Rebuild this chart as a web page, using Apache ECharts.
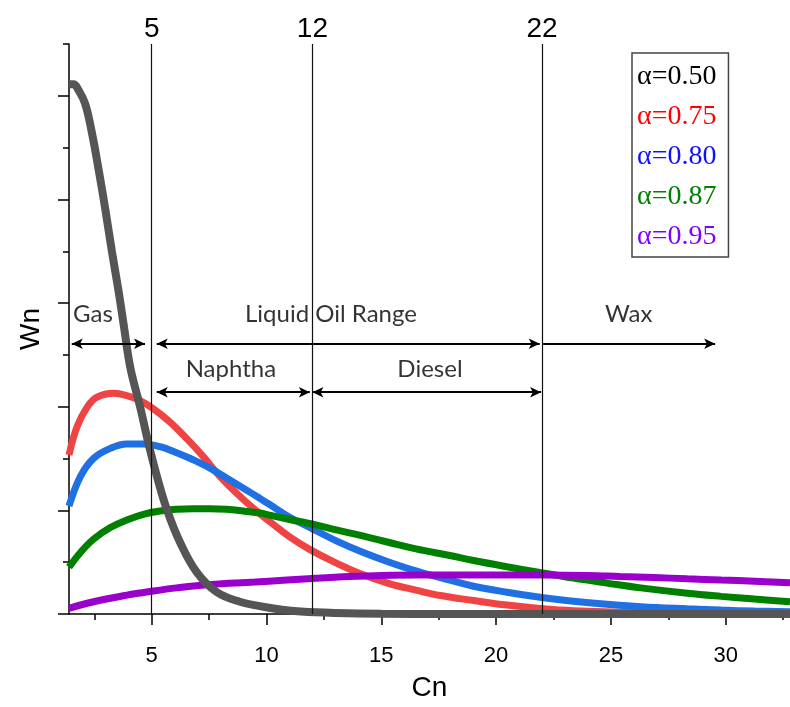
<!DOCTYPE html>
<html>
<head>
<meta charset="utf-8">
<script src="https://cdn.jsdelivr.net/npm/echarts@6/dist/echarts.min.js"></script>
<style>
  html, body { margin: 0; padding: 0; background: #ffffff; }
  #chart { width: 790px; height: 707px; }
</style>
</head>
<body>
<div id="chart"></div>
<script>
// Product distribution Wn versus carbon number Cn for several chain-growth probabilities α

const seriesNames = ['α=0.50', 'α=0.75', 'α=0.80', 'α=0.87', 'α=0.95'];

// [Cn, Wn] pairs
const wnAlpha050 = [
  [1.4, 0.2556], [1.6, 0.2556], [1.8, 0.2530], [2.1, 0.2463], [2.4, 0.2320], [2.69, 0.2144],
  [2.98, 0.1953], [3.27, 0.1748], [3.56, 0.1557], [3.78, 0.1396], [4.07, 0.1189],
  [4.5, 0.0998], [4.86, 0.0823], [5.23, 0.0664], [5.66, 0.0505], [6.24, 0.0345],
  [6.96, 0.0202], [7.83, 0.0106], [8.84, 0.0059], [9.71, 0.0038], [10.6, 0.0022],
  [11.5, 0.0012], [13, 0.0005], [15, 0.0001], [18, 0], [32.8, 0]
];
const wnAlpha075 = [
  [1.4, 0.0767], [1.75, 0.0903], [2.19, 0.0998], [2.62, 0.1046], [3.34, 0.1065],
  [3.92, 0.1054], [4.5, 0.1030], [5.08, 0.0990], [5.8, 0.0926], [6.53, 0.0846],
  [7.25, 0.0759], [7.97, 0.0664], [8.84, 0.0568], [9.57, 0.0497], [10.14, 0.0446],
  [11.01, 0.0372], [11.88, 0.0312], [12.89, 0.0254], [14.04, 0.0197], [15.35, 0.0147],
  [16.51, 0.0115], [17.57, 0.0089], [19.02, 0.0065], [20.47, 0.0043], [21.91, 0.0027],
  [23.37, 0.0016], [26.27, 0.0006], [29.0, 0.0002], [32.8, 0.0001]
];
const wnAlpha080 = [
  [1.4, 0.0521], [1.9, 0.0664], [2.47, 0.0751], [3.2, 0.0799], [3.92, 0.0820],
  [4.64, 0.0820], [5.37, 0.0807], [6.09, 0.0778], [6.81, 0.0744], [7.54, 0.0704],
  [8.26, 0.0656], [8.98, 0.0608], [9.71, 0.0558], [10.14, 0.0528], [11.01, 0.0467],
  [12.02, 0.0410], [13.04, 0.0353], [14.19, 0.0298], [15.35, 0.0250], [16.51, 0.0208],
  [17.99, 0.0163], [19.02, 0.0134], [20.47, 0.0105], [21.91, 0.0081], [23.37, 0.0062],
  [24.83, 0.0047], [26.3, 0.0035], [28.33, 0.0025], [29.8, 0.0019], [31.26, 0.0014],
  [32.8, 0.0011]
];
const wnAlpha087 = [
  [1.4, 0.0226], [1.9, 0.0297], [2.47, 0.0361], [3.2, 0.0417], [3.92, 0.0454],
  [4.64, 0.0481], [5.37, 0.0497], [6.09, 0.0505], [6.81, 0.0508], [7.54, 0.0508],
  [8.26, 0.0505], [8.98, 0.0497], [9.71, 0.0487], [10.14, 0.0477], [11.01, 0.0456],
  [12.02, 0.0433], [13.04, 0.0406], [14.19, 0.0377], [15.35, 0.0345], [16.51, 0.0314],
  [17.99, 0.0282], [19.02, 0.0258], [20.47, 0.0228], [21.91, 0.0200], [23.37, 0.0173],
  [24.83, 0.0149], [26.3, 0.0126], [28.33, 0.0100], [29.8, 0.0085], [31.26, 0.0072],
  [32.8, 0.0059]
];
const wnAlpha095 = [
  [1.4, 0.0027], [2.47, 0.0059], [3.92, 0.0091], [5.01, 0.0110], [6.09, 0.0126],
  [7.54, 0.0142], [9.5, 0.0154], [10.72, 0.0163], [12.17, 0.0173], [13.62, 0.0181],
  [15.06, 0.0186], [16.51, 0.0188], [18, 0.0188], [20, 0.0188], [22, 0.0188],
  [24, 0.0186], [25.4, 0.0181], [26.87, 0.0176], [28.33, 0.0170], [29.8, 0.0164],
  [31.26, 0.0158], [32.8, 0.0151]
];

const xMajorTicks = [5, 10, 15, 20, 25, 30];
const xMinorTicks = [2.5, 7.5, 12.5, 17.5, 22.5, 27.5, 32.5];
const yMajorTicks = [0, 0.05, 0.1, 0.15, 0.2, 0.25];
const yMinorTicks = [0.025, 0.075, 0.125, 0.175, 0.225, 0.275];
const cutCarbonNumbers = [5, 12, 22];

// Product ranges: [from Cn, to Cn, Wn level, double-headed]
const rangeArrows = [
  [1.52, 4.71, 0.1304, true],
  [5.22, 21.9, 0.1304, true],
  [22.05, 29.54, 0.1304, false],
  [5.22, 11.89, 0.1070, true],
  [12.0, 21.96, 0.1070, true]
];
// [Cn, Wn, text]
const rangeLabels = [
  [2.44, 0.1444, 'Gas'],
  [12.81, 0.1444, 'Liquid Oil Range'],
  [25.78, 0.1444, 'Wax'],
  [8.45, 0.1181, 'Naphtha'],
  [17.12, 0.1181, 'Diesel']
];

const lineColors = {
  'α=0.50': '#555555',
  'α=0.75': '#f04444',
  'α=0.80': '#1f70e2',
  'α=0.87': '#008000',
  'α=0.95': '#9900cc'
};
const legendColors = ['#000000', '#ff0000', '#1010ff', '#008000', '#8000ff'];
const curveData = {
  'α=0.50': wnAlpha050,
  'α=0.75': wnAlpha075,
  'α=0.80': wnAlpha080,
  'α=0.87': wnAlpha087,
  'α=0.95': wnAlpha095
};

const sansFont = '"Liberation Sans", Arial, sans-serif';
const drawOrder = ['α=0.75', 'α=0.80', 'α=0.87', 'α=0.95', 'α=0.50'];

const curveSeries = drawOrder.map(name => ({
  name: name,
  type: 'line',
  xAxisIndex: 0,
  yAxisIndex: 0,
  data: curveData[name],
  smooth: 0.4,
  showSymbol: false,
  symbol: 'none',
  silent: true,
  lineStyle: { color: lineColors[name], width: name === 'α=0.50' ? 8 : 7, cap: 'butt' },
  itemStyle: { color: lineColors[name] },
  clip: true
}));

const arrowData = rangeArrows.map(r => [
  { coord: [r[0], r[2]], symbol: r[3] ? 'arrow' : 'none' },
  { coord: [r[1], r[2]], symbol: 'arrow' }
]);

const annotationSeries = {
  name: 'ranges',
  type: 'scatter',
  xAxisIndex: 0,
  yAxisIndex: 0,
  silent: true,
  symbolSize: 0,
  data: rangeLabels,
  label: {
    show: true,
    position: 'inside',
    formatter: p => p.value[2],
    fontFamily: 'Lato, "Open Sans", sans-serif',
    fontSize: 24,
    color: '#000000'
  },
  markLine: {
    silent: true,
    animation: false,
    symbolSize: [8, 11],
    lineStyle: { color: '#000000', width: 2, type: 'solid' },
    label: { show: false },
    emphasis: { disabled: true },
    data: arrowData
  },
  z: 3
};

const cutSeries = {
  name: 'cuts',
  type: 'line',
  xAxisIndex: 0,
  yAxisIndex: 0,
  data: [],
  silent: true,
  markLine: {
    silent: true,
    animation: false,
    symbol: 'none',
    lineStyle: { color: '#111111', width: 1.2, type: 'solid' },
    label: { show: false },
    emphasis: { disabled: true },
    data: cutCarbonNumbers.map(v => ({ xAxis: v }))
  },
  z: 1
};

const chart = echarts.init(document.getElementById('chart'), null, { renderer: 'canvas' });

chart.setOption({
  animation: false,
  backgroundColor: '#ffffff',
  grid: { left: 69, right: 0, top: 44, bottom: 88, containLabel: false },
  legend: {
    orient: 'vertical',
    left: 632,
    top: 53,
    icon: 'none',
    itemWidth: 0,
    itemHeight: 28,
    itemGap: 12,
    padding: [10, 12, 6, 0],
    borderColor: '#444444',
    borderWidth: 1.5,
    selectedMode: false,
    textStyle: { fontFamily: '"Liberation Serif", "Times New Roman", serif', fontSize: 28 },
    data: seriesNames.map((n, i) => ({ name: n, textStyle: { color: legendColors[i] } }))
  },
  xAxis: [
    {
      type: 'value',
      min: 1.4,
      max: 32.8,
      position: 'bottom',
      name: 'Cn',
      nameLocation: 'middle',
      nameGap: 60,
      nameTextStyle: { fontFamily: sansFont, fontSize: 28, color: '#000' },
      axisLine: { show: true, onZero: false, lineStyle: { color: '#000', width: 1.5 } },
      axisTick: { show: true, inside: false, length: 11, customValues: xMajorTicks, lineStyle: { color: '#000', width: 1.5 } },
      axisLabel: { show: true, customValues: xMajorTicks, margin: 31, fontFamily: sansFont, fontSize: 22, color: '#000' },
      splitLine: { show: false }
    },
    {
      type: 'value',
      min: 1.4,
      max: 32.8,
      position: 'bottom',
      axisLine: { show: false },
      axisTick: { show: true, inside: false, length: 6, customValues: xMinorTicks, lineStyle: { color: '#000', width: 1.5 } },
      axisLabel: { show: false },
      splitLine: { show: false }
    },
    {
      type: 'value',
      min: 1.4,
      max: 32.8,
      position: 'top',
      axisLine: { show: false },
      axisTick: { show: false },
      axisLabel: { show: true, customValues: cutCarbonNumbers, margin: 1, fontFamily: sansFont, fontSize: 28, color: '#000' },
      splitLine: { show: false }
    }
  ],
  yAxis: [
    {
      type: 'value',
      min: 0,
      max: 0.275,
      position: 'left',
      name: 'Wn',
      nameLocation: 'middle',
      nameRotate: 90,
      nameGap: 24,
      nameTextStyle: { fontFamily: sansFont, fontSize: 28, color: '#000' },
      axisLine: { show: true, onZero: false, lineStyle: { color: '#000', width: 1.5 } },
      axisTick: { show: true, inside: false, length: 11, customValues: yMajorTicks, lineStyle: { color: '#000', width: 1.5 } },
      axisLabel: { show: false },
      splitLine: { show: false }
    },
    {
      type: 'value',
      min: 0,
      max: 0.275,
      position: 'left',
      axisLine: { show: false },
      axisTick: { show: true, inside: false, length: 6, customValues: yMinorTicks, lineStyle: { color: '#000', width: 1.5 } },
      axisLabel: { show: false },
      splitLine: { show: false }
    }
  ],
  series: [cutSeries, annotationSeries].concat(curveSeries)
});
</script>
</body>
</html>
